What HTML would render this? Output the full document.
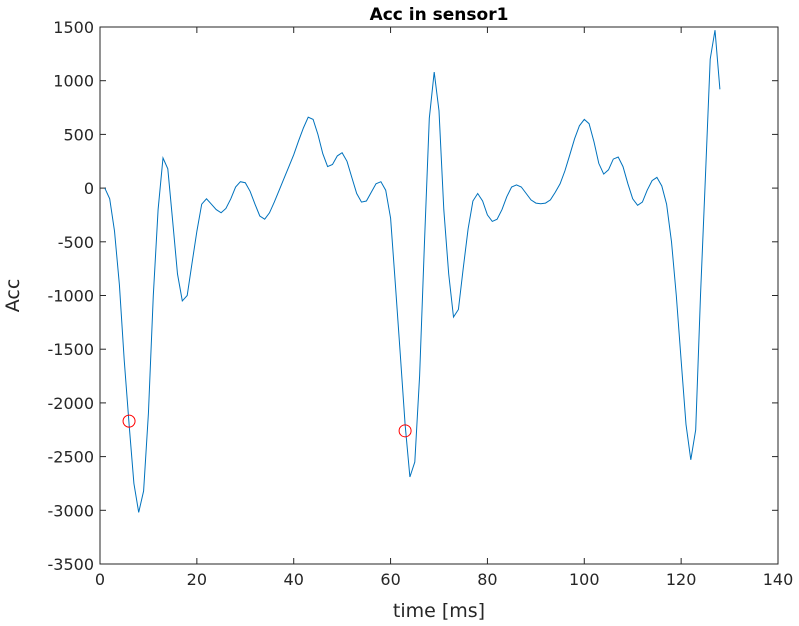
<!DOCTYPE html>
<html><head><meta charset="utf-8"><style>
body{margin:0;background:#fff;}
svg{display:block;font-family:"DejaVu Sans","Liberation Sans",sans-serif;}
</style></head><body>
<svg id="chart" width="799" height="626">
<rect x="0" y="0" width="799" height="626" fill="#fff"/>
<g id="plot"></g>
</svg>
<script>
const times = [];
const accValues = [0,-100,-400,-900,-1600,-2200,-2750,-3020,-2820,-2100,-1000,-200,280,180,-300,-800,-1050,-1000,-700,-400,-150,-100,-150,-200,-230,-190,-100,10,60,50,-30,-150,-260,-290,-230,-130,-20,90,200,310,440,560,660,640,500,320,200,220,300,330,250,100,-50,-130,-120,-40,40,60,-20,-280,-900,-1550,-2200,-2690,-2550,-1750,-500,650,1080,720,-200,-800,-1200,-1130,-750,-380,-120,-50,-120,-250,-310,-290,-200,-80,10,30,10,-50,-110,-140,-145,-140,-110,-40,40,160,310,460,580,640,600,430,230,130,170,270,290,200,40,-100,-160,-130,-20,70,100,20,-150,-500,-1000,-1600,-2200,-2530,-2250,-1000,100,1200,1470,920];
for (let i = 0; i < accValues.length; i++) times.push(i + 1);
const markerTimes = [6, 63];
const markerValues = [-2170, -2260];
const xTicks = [0,20,40,60,80,100,120,140];
const yTicks = [1500,1000,500,0,-500,-1000,-1500,-2000,-2500,-3000,-3500];

const L=100,R=778,T=27,B=564;
const xs = v => L + (v-0)/(140-0)*(R-L);
const ys = v => T + (1500-v)/(1500+3500)*(B-T);
const NS="http://www.w3.org/2000/svg";
const g=document.getElementById('plot');
function mk(tag, attrs){const e=document.createElementNS(NS,tag);for(const k in attrs)e.setAttribute(k,attrs[k]);g.appendChild(e);return e;}

const box=mk('rect',{x:L,y:T,width:R-L,height:B-T,fill:'none',stroke:'#262626','stroke-width':1});



xTicks.forEach(v=>{
  const x=xs(v);
  mk('line',{x1:x,x2:x,y1:B,y2:B-6,stroke:'#262626'});
  mk('line',{x1:x,x2:x,y1:T,y2:T+6,stroke:'#262626'});
  const t=mk('text',{x:x,y:B+21,'text-anchor':'middle','font-size':16,fill:'#262626'});
  t.textContent=v;
  
  
});
yTicks.forEach(v=>{
  const y=ys(v);
  mk('line',{x1:L,x2:L+6,y1:y,y2:y,stroke:'#262626'});
  mk('line',{x1:R,x2:R-6,y1:y,y2:y,stroke:'#262626'});
  const t=mk('text',{x:L-6,y:y+6,'text-anchor':'end','font-size':16,fill:'#262626'});
  t.textContent=v;
  
  
});

const pts=times.map((t,i)=>xs(t).toFixed(1)+','+ys(accValues[i]).toFixed(1)).join(' ');
const line=mk('polyline',{points:pts,fill:'none',stroke:'#0072bd','stroke-width':1});



markerTimes.forEach((t,i)=>{
  const c=mk('circle',{cx:xs(t),cy:ys(markerValues[i]),r:6,fill:'none',stroke:'#ff0000','stroke-width':1});
  
  
});

const title=mk('text',{x:(L+R)/2,y:20,'text-anchor':'middle','font-size':17,'font-weight':'bold',fill:'#000'});
title.textContent='Acc in sensor1';



const xl=mk('text',{x:(L+R)/2,y:617,'text-anchor':'middle','font-size':19,fill:'#262626'});
xl.textContent='time [ms]';



const yl=mk('text',{x:0,y:0,'text-anchor':'middle','font-size':19,fill:'#262626',transform:'translate(19,'+((T+B)/2)+') rotate(-90)'});
yl.textContent='Acc';


</script>
</body></html>
